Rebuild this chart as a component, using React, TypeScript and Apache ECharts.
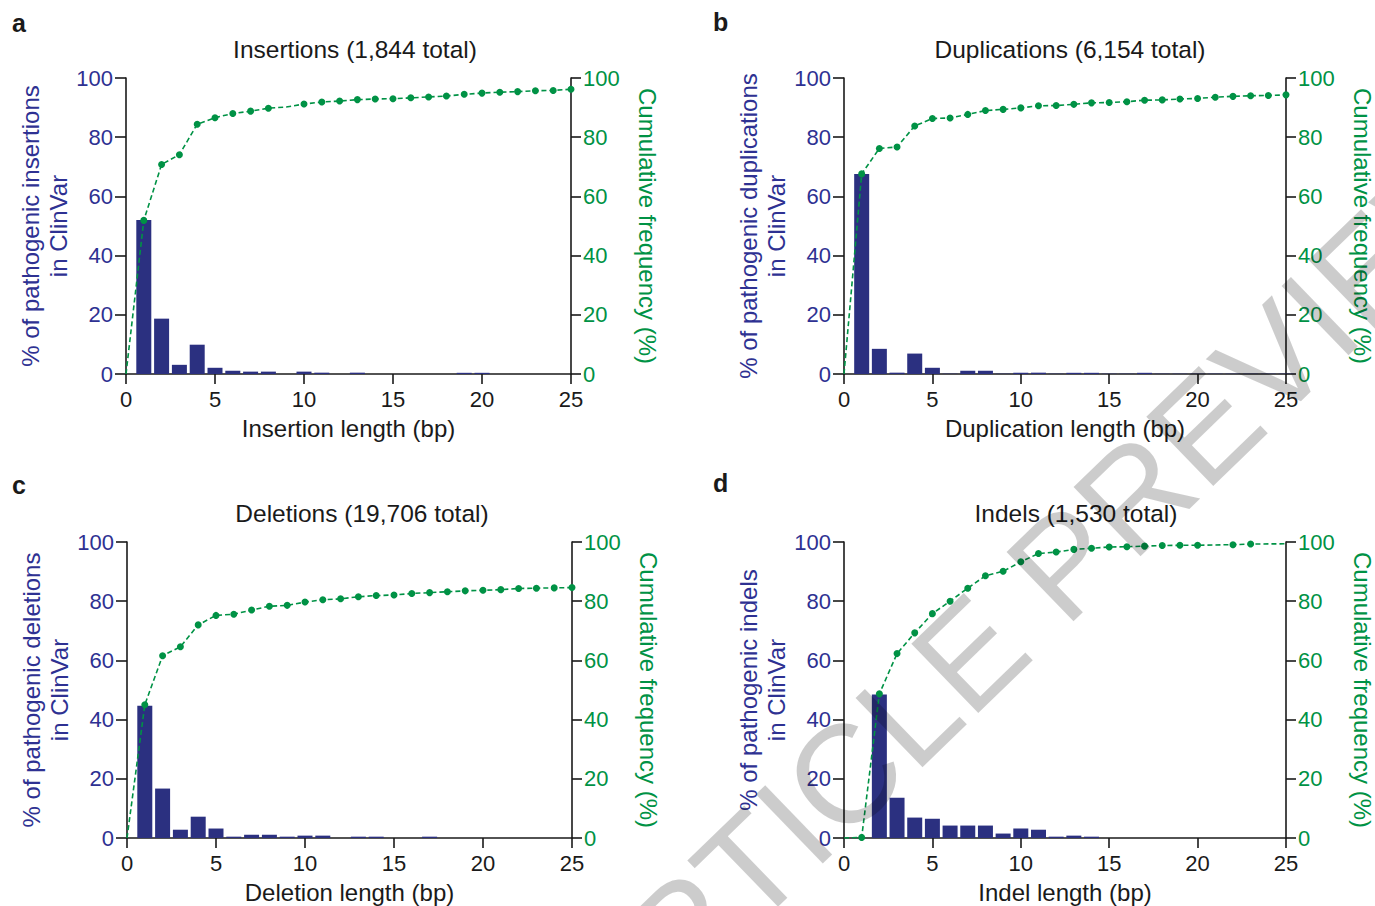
import React, { useEffect, useRef } from 'react';
import * as echarts from 'echarts';

// ---------- data ----------
const lengthTicks = [0, 5, 10, 15, 20, 25];
const barLengths = [1, 2, 3, 4, 5, 6, 7, 8, 9, 10, 11, 12, 13, 14, 15, 16, 17, 18, 19, 20, 21, 22, 23, 24, 25];
const cumLengths = [0, 1, 2, 3, 4, 5, 6, 7, 8, 9, 10, 11, 12, 13, 14, 15, 16, 17, 18, 19, 20, 21, 22, 23, 24, 25];

const panelLetters = ['a', 'b', 'c', 'd'];
const panelTitles = ['Insertions (1,844 total)', 'Duplications (6,154 total)', 'Deletions (19,706 total)', 'Indels (1,530 total)'];
const xNames = ['Insertion length (bp)', 'Duplication length (bp)', 'Deletion length (bp)', 'Indel length (bp)'];
const yNames = [
  '% of pathogenic insertions\nin ClinVar',
  '% of pathogenic duplications\nin ClinVar',
  '% of pathogenic deletions\nin ClinVar',
  '% of pathogenic indels\nin ClinVar',
];
const rightName = 'Cumulative frequency (%)';
const watermarkText = 'ARTICLE PREVIEW';

const insBars = [52, 18.7, 3.1, 9.9, 2.1, 1.1, 0.8, 0.8, 0, 0.8, 0.45, 0, 0.45, 0, 0, 0, 0, 0, 0.4, 0.4, 0, 0, 0, 0, 0];
const insCum = [0, 51.9, 70.8, 74.1, 84.4, 86.6, 88.0, 88.8, 89.8, 90.2, 91.2, 91.9, 92.2, 92.7, 92.9, 93.0, 93.3, 93.6, 93.9, 94.5, 94.9, 95.2, 95.4, 95.7, 95.8, 96.2];
const insNoMarker = [0, 9];

const dupBars = [67.6, 8.5, 0.45, 6.9, 2.1, 0.1, 1.1, 1.1, 0.1, 0.45, 0.45, 0.1, 0.4, 0.4, 0.1, 0.1, 0.4, 0.1, 0.1, 0.1, 0.1, 0.1, 0.1, 0.1, 0.1];
const dupCum = [0, 67.6, 76.2, 76.7, 83.8, 86.3, 86.5, 87.7, 89.0, 89.4, 89.9, 90.6, 90.7, 91.1, 91.6, 91.7, 92.0, 92.5, 92.6, 92.9, 93.1, 93.5, 93.8, 94.0, 94.1, 94.3];
const dupNoMarker = [0];

const delBars = [44.7, 16.7, 2.8, 7.2, 3.2, 0.45, 1.1, 1.1, 0.45, 0.8, 0.8, 0, 0.45, 0.45, 0, 0, 0.45, 0, 0, 0, 0, 0, 0, 0, 0];
const delCum = [0, 45.0, 61.6, 64.6, 72.0, 75.2, 75.6, 77.0, 78.3, 78.6, 79.7, 80.5, 80.8, 81.5, 81.9, 82.1, 82.6, 82.9, 83.2, 83.5, 83.7, 83.9, 84.3, 84.4, 84.5, 84.6];
const delNoMarker = [0];

const indBars = [0, 48.5, 13.6, 6.9, 6.5, 4.2, 4.2, 4.2, 1.5, 3.2, 2.8, 0.45, 0.8, 0.45, 0, 0, 0, 0, 0, 0, 0, 0, 0, 0, 0];
const indCum = [0, 0.2, 48.7, 62.3, 69.3, 75.8, 80.0, 84.4, 88.6, 90.1, 93.3, 96.1, 96.6, 97.5, 97.9, 98.3, 98.4, 98.6, 98.8, 98.9, 98.9, null, 99.1, 99.3, null, 99.4];
const indNoMarker = [0, 25];

const yTicksMax = 100;
const yInterval = 20;

// ---------- styles ----------
const FONT = '"Liberation Sans", Arial, Helvetica, sans-serif';
const BLUE_TEXT = '#2E3192';
const BAR = '#2B3080';
const GREEN = '#009245';
const INK = '#1a1a1a';

const grids = [
  { left: 126, top: 78, width: 445, height: 296 },
  { left: 844, top: 78, width: 445, height: 296 },
  { left: 127, top: 542, width: 445, height: 296 },
  { left: 844, top: 542, width: 445, height: 296 },
];
const titlePos = [
  { x: 355, y: 49 },
  { x: 1070, y: 49 },
  { x: 362, y: 513 },
  { x: 1076, y: 513 },
];
const letterPos = [
  { x: 12, y: 23 },
  { x: 713, y: 22 },
  { x: 12, y: 485 },
  { x: 713, y: 483 },
];

export default function App() {
  const ref = useRef<HTMLDivElement>(null);

  useEffect(() => {
    if (!ref.current) return;
    const chart = echarts.init(ref.current, undefined, { renderer: 'svg' });

    const bars = [insBars, dupBars, delBars, indBars];
    const cums = [insCum, dupCum, delCum, indCum];
    const hidden = [insNoMarker, dupNoMarker, delNoMarker, indNoMarker];

    const xAxis: any[] = [];
    const yAxis: any[] = [];
    const series: any[] = [];
    const graphic: any[] = [];

    grids.forEach((g, k) => {
      xAxis.push({
        type: 'value',
        gridIndex: k,
        min: 0,
        max: 25,
        interval: 5,
        name: xNames[k],
        nameLocation: 'middle',
        nameGap: 42,
        nameTextStyle: { fontSize: 24, color: INK, fontFamily: FONT },
        axisLine: { show: true, onZero: false, lineStyle: { color: INK, width: 1.6 } },
        axisTick: { show: true, length: 10, lineStyle: { color: INK, width: 1.6 } },
        axisLabel: {
          color: INK, fontSize: 22, margin: 14, fontFamily: FONT,
          customValues: lengthTicks,
        },
        splitLine: { show: false },
      });
      yAxis.push({
        type: 'value',
        gridIndex: k,
        position: 'left',
        min: 0,
        max: yTicksMax,
        interval: yInterval,
        name: yNames[k],
        nameLocation: 'middle',
        nameRotate: 90,
        nameGap: 54,
        nameTextStyle: { fontSize: 24, color: BLUE_TEXT, fontFamily: FONT, lineHeight: 28 },
        axisLine: { show: true, lineStyle: { color: INK, width: 1.6 } },
        axisTick: { show: true, length: 11, lineStyle: { color: INK, width: 1.6 } },
        axisLabel: { color: BLUE_TEXT, fontSize: 22, margin: 13, fontFamily: FONT },
        splitLine: { show: false },
      });
      yAxis.push({
        type: 'value',
        gridIndex: k,
        position: 'right',
        min: 0,
        max: yTicksMax,
        interval: yInterval,
        name: rightName,
        nameLocation: 'middle',
        nameRotate: -90,
        nameGap: 64,
        nameTextStyle: { fontSize: 24, color: GREEN, fontFamily: FONT },
        axisLine: { show: true, lineStyle: { color: INK, width: 1.6 } },
        axisTick: { show: true, length: 10, lineStyle: { color: INK, width: 1.6 } },
        axisLabel: { color: GREEN, fontSize: 22, margin: 12, fontFamily: FONT },
        splitLine: { show: false },
      });

      series.push({
        type: 'bar',
        xAxisIndex: k,
        yAxisIndex: 2 * k,
        barWidth: 15,
        itemStyle: { color: BAR },
        data: barLengths.map((x, i) => [x, bars[k][i]]),
        z: 2,
      });

      series.push({
        type: 'line',
        xAxisIndex: k,
        yAxisIndex: 2 * k + 1,
        connectNulls: true,
        symbol: 'circle',
        symbolSize: 7,
        lineStyle: { color: GREEN, width: 1.6, type: [5, 3] },
        itemStyle: { color: GREEN },
        data: cumLengths.map((x, i) => {
          const v = cums[k][i];
          if (v === null) return [x, null];
          if (hidden[k].includes(x)) return { value: [x, v], symbol: 'none' };
          return [x, v];
        }),
        z: 3,
      });

      graphic.push({
        type: 'text',
        x: titlePos[k].x,
        y: titlePos[k].y,
        style: {
          text: panelTitles[k], fontSize: 24.5, fill: INK, fontFamily: FONT,
          align: 'center', verticalAlign: 'middle',
        },
      });
      graphic.push({
        type: 'text',
        x: letterPos[k].x,
        y: letterPos[k].y,
        style: {
          text: panelLetters[k], fontSize: 25, fontWeight: 'bold', fill: INK, fontFamily: FONT,
          align: 'left', verticalAlign: 'middle',
        },
      });
    });

    graphic.push({
      type: 'text',
      x: 1038,
      y: 588,
      rotation: (44 * Math.PI) / 180,
      z: 100,
      silent: true,
      style: {
        text: watermarkText,
        fontSize: 140,
        fill: 'rgba(0,0,0,0.2)',
        fontFamily: FONT,
        align: 'center',
        verticalAlign: 'middle',
      },
    });

    chart.setOption({
      animation: false,
      backgroundColor: '#ffffff',
      grid: grids.map((g) => ({ ...g, containLabel: false })),
      xAxis,
      yAxis,
      series,
      graphic,
    });

    return () => chart.dispose();
  }, []);

  return (
    <div
      ref={ref}
      style={{ position: 'fixed', left: 0, top: 0, width: 1375, height: 906, background: '#fff' }}
    />
  );
}
